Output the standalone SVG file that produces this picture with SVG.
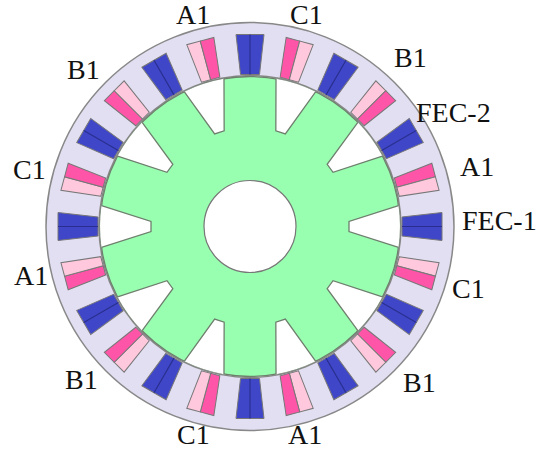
<svg xmlns="http://www.w3.org/2000/svg" width="538" height="453" viewBox="0 0 538 453">
<style>
text{font-family:"Liberation Serif","Times New Roman",serif;font-size:28px;fill:#111}
.o{stroke:#888;stroke-width:1.5}
.c{stroke:#777;stroke-width:1}
.b{fill:#3f47c8}.m{fill:#ff55a8}.l{fill:#ffc8dc}
.e{fill:none;stroke:#6e7f6e;stroke-width:1.3}
</style>
<defs>
<g id="blue"><path class="b c" d="M152,-9.5L192,-14L192,14L152,9.5Z"/><path d="M152,0H192" stroke="#2a2f8f" stroke-width="1.2"/></g>
<g id="pairA"><path class="m c" d="M152,-9.5L192,-14L192,0L152,0Z"/><path class="l c" d="M152,0L192,0L192,14L152,9.5Z"/></g>
<g id="pairB"><path class="l c" d="M152,-9.5L192,-14L192,0L152,0Z"/><path class="m c" d="M152,0L192,0L192,14L152,9.5Z"/></g>
<g id="slot"><path fill="#fff" d="M148.5,-20.9L99,-5L99,5L148.5,20.9A150,150 0 0 0 148.5,-20.9Z"/><path class="e" d="M148.5,-20.9L99,-5L99,5L148.5,20.9"/></g>
</defs>
<g id="stator" transform="translate(250 226.5)">
<circle r="204" fill="#e3dff2" class="o"/>
<circle r="151" fill="#fff" class="o"/>
</g>
<g id="rotor" transform="translate(250 226.5)">
<circle r="150" fill="#99ffb0" stroke="#6e7f6e" stroke-width="1.3"/>
<use href="#slot" transform="rotate(0)"/><use href="#slot" transform="rotate(36)"/><use href="#slot" transform="rotate(72)"/><use href="#slot" transform="rotate(108)"/><use href="#slot" transform="rotate(144)"/><use href="#slot" transform="rotate(180)"/><use href="#slot" transform="rotate(216)"/><use href="#slot" transform="rotate(252)"/><use href="#slot" transform="rotate(288)"/><use href="#slot" transform="rotate(324)"/>
<circle r="46" fill="#fff" stroke="#777" stroke-width="1.2"/>
</g>
<g id="coils" transform="translate(250 226.5)">
<use href="#blue" transform="rotate(0)"/><use href="#blue" transform="rotate(-30)"/><use href="#blue" transform="rotate(-60)"/><use href="#blue" transform="rotate(-90)"/><use href="#blue" transform="rotate(-120)"/><use href="#blue" transform="rotate(-150)"/><use href="#blue" transform="rotate(180)"/><use href="#blue" transform="rotate(150)"/><use href="#blue" transform="rotate(120)"/><use href="#blue" transform="rotate(90)"/><use href="#blue" transform="rotate(60)"/><use href="#blue" transform="rotate(30)"/>
<use href="#pairA" transform="rotate(-15)"/>
<use href="#pairB" transform="rotate(-45)"/>
<use href="#pairA" transform="rotate(-75)"/>
<use href="#pairB" transform="rotate(-105)"/>
<use href="#pairA" transform="rotate(-135)"/>
<use href="#pairB" transform="rotate(-165)"/>
<use href="#pairA" transform="rotate(165)"/>
<use href="#pairB" transform="rotate(135)"/>
<use href="#pairA" transform="rotate(105)"/>
<use href="#pairB" transform="rotate(75)"/>
<use href="#pairA" transform="rotate(45)"/>
<use href="#pairB" transform="rotate(15)"/>
</g>
<g id="labels">
<text x="462" y="230">FEC-1</text>
<text x="416" y="122">FEC-2</text>
<text x="460" y="176">A1</text>
<text x="452" y="298">C1</text>
<text x="394" y="67">B1</text>
<text x="290" y="24">C1</text>
<text x="176" y="24">A1</text>
<text x="67" y="79">B1</text>
<text x="13" y="179">C1</text>
<text x="14" y="285">A1</text>
<text x="65" y="389">B1</text>
<text x="177" y="444">C1</text>
<text x="288" y="444">A1</text>
<text x="403" y="392">B1</text>
</g>
</svg>
